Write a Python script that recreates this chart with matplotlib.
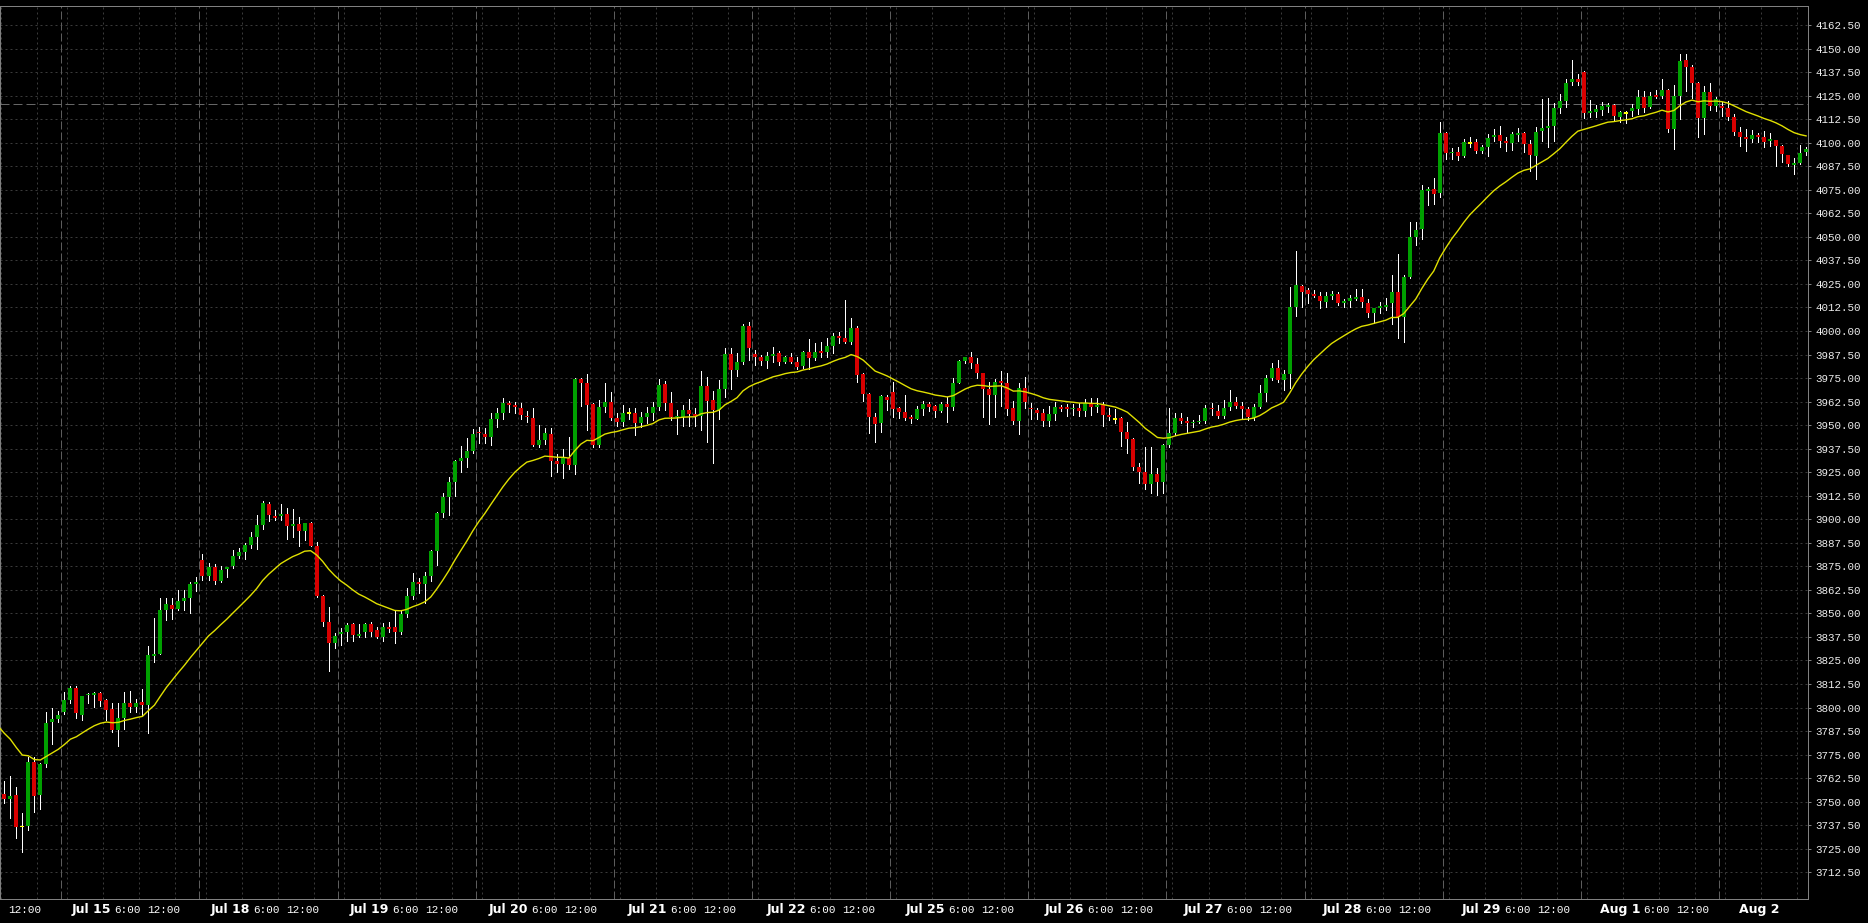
import numpy as np
import pandas as pd
import matplotlib
matplotlib.use("Agg")
import matplotlib.pyplot as plt
from matplotlib.transforms import blended_transform_factory

# ---------------- data (hourly candles, index -1 .. 300) ----------------
first_index = -1

opens = [
    3767.8, 3754.1, 3751.6, 3753.6, 3736.8, 3737.3, 3770.9, 3753.6, 3770.0, 3792.5,
    3793.9, 3797.8, 3804.0, 3810.2, 3796.1, 3806.5, 3806.9, 3807.7, 3804.0, 3799.2,
    3788.1, 3794.3, 3802.6, 3800.5, 3802.8, 3801.4, 3827.4, 3828.5, 3851.8, 3854.5,
    3852.2, 3856.8, 3858.4, 3865.8, 3878.4, 3869.9, 3874.5, 3867.2, 3873.8, 3875.2,
    3880.5, 3882.8, 3886.4, 3890.4, 3897.0, 3908.1, 3901.7, 3901.9, 3902.8, 3896.6,
    3897.5, 3894.0, 3897.9, 3886.0, 3859.4, 3845.3, 3834.1, 3838.9, 3840.0, 3844.2,
    3838.2, 3840.0, 3844.2, 3841.2, 3837.7, 3842.6, 3842.6, 3840.0, 3849.5, 3859.4,
    3866.9, 3865.6, 3869.9, 3883.2, 3903.2, 3912.0, 3920.0, 3931.1, 3932.7, 3936.3,
    3946.5, 3945.3, 3943.9, 3953.3, 3956.6, 3961.6, 3960.7, 3959.3, 3955.0, 3953.8,
    3939.5, 3942.1, 3945.3, 3931.0, 3929.5, 3932.7, 3928.8, 3974.3, 3972.6, 3961.0,
    3939.5, 3959.8, 3962.5, 3954.0, 3951.9, 3956.3, 3956.3, 3951.0, 3954.3, 3956.6,
    3959.8, 3971.8, 3961.6, 3954.2, 3954.2, 3958.0, 3955.9, 3955.0, 3970.8, 3963.4,
    3958.0, 3969.2, 3987.8, 3979.3, 3983.7, 4002.8, 3987.8, 3986.0, 3984.2, 3986.9,
    3988.1, 3983.7, 3986.0, 3983.7, 3981.4, 3989.0, 3985.8, 3989.2, 3989.0, 3992.0,
    3997.3, 3996.5, 3994.3, 4001.8, 3977.2, 3966.5, 3954.2, 3951.0, 3965.1, 3967.8,
    3959.3, 3957.2, 3954.2, 3953.3, 3958.6, 3961.2, 3960.3, 3957.7, 3961.2, 3959.8,
    3972.2, 3984.1, 3986.0, 3982.5, 3977.5, 3969.2, 3966.0, 3973.4, 3972.2, 3958.9,
    3952.4, 3969.5, 3959.3, 3958.0, 3956.3, 3952.4, 3955.9, 3959.8, 3959.8, 3958.4,
    3959.3, 3957.7, 3961.9, 3959.8, 3960.7, 3955.4, 3953.3, 3953.6, 3946.5, 3942.6,
    3928.0, 3925.0, 3918.5, 3924.0, 3920.0, 3939.5, 3946.0, 3953.6, 3952.2, 3951.0,
    3951.7, 3952.4, 3959.3, 3957.5, 3955.0, 3959.8, 3962.5, 3960.2, 3958.6, 3953.6,
    3959.4, 3967.2, 3974.9, 3980.2, 3974.0, 3977.2, 4012.6, 4023.9, 4021.8, 4019.6,
    4018.8, 4015.6, 4018.8, 4019.6, 4015.0, 4016.1, 4017.0, 4017.9, 4014.7, 4009.4,
    4012.4, 4012.9, 4014.7, 4020.5, 4007.6, 4028.5, 4050.1, 4054.2, 4074.5, 4075.4,
    4073.5, 4105.3, 4094.3, 4095.2, 4093.1, 4100.0, 4100.2, 4095.8, 4097.9, 4103.2,
    4104.1, 4101.1, 4099.7, 4104.1, 4105.0, 4099.3, 4093.1, 4106.4, 4107.6, 4108.9,
    4118.2, 4122.1, 4132.4, 4133.8, 4137.7, 4115.9, 4116.5, 4117.3, 4119.1, 4120.0,
    4113.8, 4115.9, 4117.0, 4117.7, 4124.4, 4118.9, 4125.3, 4125.0, 4128.0, 4107.3,
    4124.8, 4143.9, 4140.4, 4131.9, 4113.3, 4127.1, 4119.7, 4119.7, 4118.6, 4113.8,
    4105.9, 4103.2, 4102.1, 4104.1, 4103.2, 4100.9, 4101.4, 4098.2, 4093.5, 4088.2,
    4089.0, 4095.2,
]

highs = [
    3770.0, 3761.0, 3763.7, 3758.0, 3743.8, 3773.6, 3773.6, 3770.4, 3797.5, 3800.0,
    3798.2, 3808.1, 3811.5, 3811.5, 3806.2, 3807.9, 3808.4, 3808.4, 3804.5, 3802.2,
    3802.2, 3808.4, 3809.0, 3804.5, 3809.9, 3832.7, 3847.4, 3858.0, 3858.0, 3858.4,
    3862.4, 3862.4, 3866.5, 3869.5, 3881.6, 3876.6, 3876.3, 3875.4, 3874.8, 3883.7,
    3884.6, 3887.2, 3893.4, 3902.0, 3909.7, 3909.4, 3904.9, 3908.1, 3905.8, 3905.5,
    3901.4, 3898.2, 3898.7, 3887.8, 3859.6, 3853.6, 3839.5, 3842.1, 3845.1, 3845.1,
    3844.2, 3845.1, 3845.6, 3843.0, 3845.1, 3845.6, 3851.8, 3851.8, 3863.3, 3871.3,
    3868.6, 3872.2, 3883.7, 3904.0, 3913.8, 3922.3, 3931.5, 3939.1, 3943.0, 3948.0,
    3949.2, 3948.3, 3956.3, 3958.9, 3964.2, 3963.0, 3962.5, 3961.5, 3957.5, 3958.9,
    3950.1, 3948.3, 3948.3, 3934.7, 3937.3, 3943.9, 3974.8, 3975.2, 3977.2, 3961.5,
    3963.4, 3972.6, 3967.4, 3956.3, 3960.7, 3958.9, 3958.9, 3957.2, 3959.5, 3962.5,
    3974.5, 3973.6, 3967.4, 3958.0, 3960.7, 3963.9, 3958.9, 3978.9, 3975.7, 3968.3,
    3974.0, 3990.8, 3990.8, 3988.5, 4003.7, 4004.6, 3989.9, 3987.3, 3989.0, 3991.7,
    3989.5, 3986.9, 3988.1, 3986.4, 3989.5, 3995.6, 3993.4, 3994.3, 3996.1, 3998.8,
    3999.6, 4016.5, 4007.1, 4002.8, 3977.5, 3967.0, 3956.3, 3966.0, 3966.0, 3973.1,
    3959.5, 3966.0, 3955.5, 3960.2, 3963.0, 3962.5, 3960.7, 3962.1, 3964.8, 3974.9,
    3984.6, 3986.4, 3989.0, 3985.5, 3977.9, 3972.7, 3974.3, 3978.9, 3977.9, 3962.8,
    3972.2, 3975.4, 3961.5, 3958.9, 3958.4, 3960.2, 3962.5, 3960.7, 3961.0, 3961.0,
    3961.5, 3963.7, 3964.2, 3964.2, 3962.5, 3958.9, 3958.4, 3954.5, 3951.5, 3943.0,
    3930.0, 3938.2, 3938.2, 3927.0, 3940.0, 3958.9, 3956.3, 3956.3, 3954.5, 3952.7,
    3955.4, 3960.7, 3961.6, 3960.7, 3963.3, 3968.7, 3965.1, 3962.5, 3959.8, 3961.0,
    3971.3, 3976.6, 3982.8, 3984.6, 3979.3, 4023.5, 4042.6, 4024.4, 4022.6, 4021.8,
    4020.9, 4020.9, 4021.4, 4020.9, 4016.8, 4019.1, 4022.1, 4022.1, 4016.8, 4012.4,
    4015.6, 4017.3, 4029.7, 4040.9, 4029.7, 4057.7, 4057.7, 4077.5, 4076.6, 4081.0,
    4111.2, 4105.8, 4097.0, 4097.5, 4102.0, 4103.2, 4101.8, 4098.8, 4104.4, 4107.1,
    4108.9, 4103.2, 4105.9, 4107.6, 4105.9, 4101.4, 4108.1, 4123.2, 4123.5, 4121.2,
    4125.9, 4133.8, 4143.9, 4136.3, 4138.2, 4122.6, 4120.0, 4121.8, 4121.2, 4120.5,
    4116.8, 4116.8, 4120.3, 4128.0, 4127.4, 4127.1, 4128.0, 4133.8, 4128.5, 4130.6,
    4147.1, 4147.1, 4141.3, 4132.4, 4130.1, 4131.9, 4124.1, 4121.8, 4122.1, 4115.2,
    4108.5, 4107.1, 4106.7, 4105.3, 4106.4, 4105.3, 4101.6, 4098.8, 4093.5, 4091.7,
    4098.8, 4097.5,
]

lows = [
    3750.0, 3749.5, 3741.2, 3730.6, 3723.5, 3735.0, 3744.7, 3746.0, 3768.6, 3780.5,
    3792.5, 3796.6, 3802.6, 3794.7, 3793.4, 3802.6, 3800.5, 3801.0, 3793.4, 3787.2,
    3779.6, 3788.6, 3797.5, 3797.8, 3796.1, 3786.3, 3824.4, 3828.5, 3846.5, 3846.9,
    3851.8, 3851.8, 3850.0, 3862.1, 3867.7, 3867.7, 3865.6, 3866.5, 3869.5, 3874.3,
    3879.3, 3878.9, 3884.6, 3884.2, 3894.8, 3899.3, 3899.6, 3899.6, 3889.5, 3890.8,
    3886.0, 3889.0, 3886.0, 3858.9, 3843.5, 3819.6, 3831.5, 3833.2, 3835.5, 3835.5,
    3837.7, 3837.7, 3838.2, 3836.8, 3835.5, 3840.0, 3834.1, 3839.1, 3848.3, 3857.7,
    3860.7, 3855.4, 3867.4, 3875.7, 3901.4, 3902.3, 3912.5, 3925.3, 3927.9, 3935.0,
    3940.3, 3940.3, 3939.5, 3949.2, 3953.3, 3957.0, 3956.3, 3953.0, 3951.8, 3939.1,
    3938.6, 3940.0, 3923.0, 3925.3, 3922.1, 3926.7, 3924.1, 3960.3, 3947.4, 3938.6,
    3938.6, 3956.8, 3952.7, 3949.7, 3949.7, 3953.1, 3944.8, 3949.2, 3951.0, 3952.7,
    3958.0, 3958.0, 3952.7, 3945.1, 3949.7, 3949.7, 3949.7, 3947.4, 3941.2, 3930.1,
    3953.1, 3965.1, 3969.2, 3976.3, 3982.5, 3984.6, 3981.9, 3981.9, 3980.2, 3983.7,
    3981.9, 3982.8, 3982.8, 3979.6, 3980.2, 3979.6, 3984.6, 3986.0, 3986.4, 3988.1,
    3993.4, 3993.4, 3992.9, 3972.7, 3963.0, 3945.7, 3940.9, 3946.6, 3958.0, 3954.2,
    3953.6, 3952.7, 3951.3, 3953.1, 3955.4, 3957.7, 3954.5, 3956.8, 3951.8, 3958.0,
    3972.2, 3983.0, 3980.2, 3974.9, 3954.2, 3950.6, 3954.5, 3960.3, 3955.4, 3950.6,
    3945.3, 3958.9, 3953.3, 3953.1, 3949.7, 3949.7, 3952.7, 3957.7, 3954.8, 3955.4,
    3954.8, 3954.8, 3955.4, 3956.8, 3949.7, 3952.7, 3951.0, 3939.1, 3935.0, 3926.0,
    3919.0, 3916.0, 3914.0, 3913.0, 3914.0, 3938.5, 3944.8, 3951.0, 3946.5, 3949.2,
    3951.0, 3951.0, 3955.4, 3953.6, 3953.6, 3958.0, 3958.9, 3953.3, 3952.7, 3952.7,
    3958.9, 3962.8, 3974.0, 3973.1, 3968.7, 3969.6, 4008.0, 4012.9, 4015.0, 4017.9,
    4012.4, 4012.9, 4017.0, 4013.8, 4012.9, 4012.9, 4016.5, 4012.9, 4007.6, 4004.1,
    4009.7, 4011.1, 4003.7, 3996.1, 3994.3, 4028.0, 4045.7, 4048.9, 4066.9, 4067.4,
    4071.3, 4091.1, 4091.1, 4090.8, 4092.2, 4097.9, 4094.7, 4094.7, 4093.1, 4101.0,
    4097.5, 4095.8, 4096.1, 4101.1, 4095.2, 4085.1, 4080.5, 4101.1, 4097.9, 4101.1,
    4116.0, 4119.1, 4130.6, 4130.6, 4112.9, 4113.5, 4113.8, 4114.7, 4116.5, 4112.0,
    4111.1, 4110.6, 4114.2, 4115.2, 4116.5, 4118.2, 4123.5, 4123.5, 4105.9, 4096.6,
    4112.6, 4127.6, 4123.5, 4103.2, 4104.6, 4117.4, 4117.0, 4114.2, 4112.0, 4104.0,
    4098.2, 4095.8, 4100.5, 4100.5, 4097.9, 4098.2, 4087.8, 4089.9, 4087.8, 4083.2,
    4088.5, 4093.5,
]

closes = [
    3752.7, 3751.5, 3753.2, 3736.8, 3736.8, 3770.9, 3753.2, 3770.0, 3792.0, 3793.9,
    3796.1, 3804.0, 3810.2, 3797.0, 3806.2, 3807.4, 3807.7, 3803.7, 3798.7, 3788.1,
    3794.3, 3802.6, 3800.5, 3802.6, 3801.4, 3827.9, 3828.5, 3851.8, 3854.8, 3852.4,
    3856.8, 3858.4, 3865.6, 3866.9, 3869.9, 3874.5, 3867.2, 3873.1, 3874.5, 3880.5,
    3882.8, 3886.4, 3890.4, 3897.0, 3908.5, 3902.3, 3900.7, 3902.8, 3896.6, 3897.5,
    3894.0, 3897.9, 3886.0, 3859.4, 3845.6, 3834.1, 3838.2, 3839.9, 3843.9, 3838.6,
    3838.9, 3844.2, 3840.3, 3837.7, 3842.6, 3841.7, 3840.0, 3849.5, 3859.4, 3866.9,
    3865.5, 3869.9, 3883.2, 3903.2, 3912.0, 3920.0, 3931.1, 3932.4, 3936.3, 3945.3,
    3945.6, 3943.9, 3953.3, 3956.6, 3961.6, 3960.7, 3959.8, 3955.2, 3954.1, 3939.5,
    3942.1, 3945.7, 3931.0, 3929.5, 3932.7, 3928.8, 3974.3, 3972.6, 3960.7, 3939.5,
    3959.8, 3962.5, 3954.0, 3951.9, 3956.3, 3956.3, 3951.0, 3954.3, 3956.6, 3959.8,
    3971.3, 3961.9, 3954.2, 3954.9, 3958.0, 3955.9, 3955.0, 3970.8, 3963.0, 3958.0,
    3969.2, 3987.8, 3979.3, 3983.7, 4002.8, 3991.1, 3986.4, 3984.1, 3986.7, 3987.8,
    3983.7, 3986.0, 3983.7, 3981.1, 3989.0, 3985.8, 3989.0, 3988.1, 3992.0, 3997.3,
    3996.5, 3994.3, 4001.8, 3976.6, 3966.5, 3954.2, 3950.6, 3965.5, 3963.4, 3958.6,
    3956.8, 3954.0, 3953.1, 3958.6, 3961.2, 3959.8, 3957.7, 3961.2, 3959.8, 3972.2,
    3984.1, 3986.0, 3982.8, 3977.9, 3969.2, 3966.0, 3972.7, 3972.2, 3958.6, 3952.4,
    3969.5, 3962.5, 3958.4, 3956.3, 3952.4, 3955.9, 3959.4, 3958.7, 3958.7, 3959.3,
    3957.7, 3961.9, 3959.8, 3960.7, 3955.4, 3954.1, 3953.3, 3946.5, 3942.6, 3928.0,
    3925.0, 3918.5, 3924.0, 3920.0, 3939.5, 3946.0, 3953.6, 3952.4, 3951.0, 3951.8,
    3952.4, 3958.9, 3958.4, 3955.0, 3958.9, 3962.5, 3960.3, 3958.6, 3954.5, 3959.4,
    3967.2, 3974.9, 3980.2, 3974.0, 3977.2, 4012.6, 4024.4, 4020.9, 4019.6, 4018.8,
    4015.9, 4018.6, 4019.6, 4015.0, 4015.9, 4017.7, 4017.9, 4015.6, 4009.4, 4012.0,
    4013.3, 4013.8, 4020.9, 4007.6, 4028.5, 4049.7, 4053.6, 4074.9, 4075.4, 4072.8,
    4105.3, 4094.3, 4095.2, 4093.1, 4100.2, 4100.0, 4095.8, 4097.9, 4102.7, 4104.1,
    4101.1, 4099.7, 4104.6, 4105.0, 4099.3, 4093.5, 4105.5, 4107.6, 4108.9, 4118.2,
    4122.1, 4131.9, 4133.8, 4132.4, 4115.9, 4116.8, 4117.7, 4119.7, 4120.0, 4114.2,
    4116.5, 4115.9, 4118.2, 4124.4, 4118.6, 4124.8, 4124.4, 4128.0, 4107.3, 4124.8,
    4143.6, 4140.4, 4131.9, 4113.3, 4127.1, 4119.7, 4123.2, 4118.6, 4113.8, 4105.9,
    4103.2, 4102.1, 4104.1, 4103.2, 4100.5, 4101.8, 4098.2, 4093.8, 4088.7, 4089.4,
    4094.7, 4096.9,
]

ma_period = 20          # exponential moving average length
ma_seed = 3790.0        # MA value read at the first (partial) candle
ref_line = 4120.5       # horizontal dashed reference line

day_labels = ["Jul 15", "Jul 18", "Jul 19", "Jul 20", "Jul 21", "Jul 22", "Jul 25",
              "Jul 26", "Jul 27", "Jul 28", "Jul 29", "Aug 1", "Aug 2"]
time_labels = ["6:00", "12:00"]
candles_per_day = 23
first_day_break = 9.5   # candle index where Jul 15 session begins

y_ticks = np.arange(3712.5, 4162.5 + 0.01, 12.5)

# ---------------- derived ----------------
O = np.array(opens); H = np.array(highs); L = np.array(lows); C = np.array(closes)
n = len(C)
idx = np.arange(n) + first_index

ema_input = pd.Series(np.concatenate([[ma_seed], C[1:]]))
ma = ema_input.ewm(alpha=2.0 / (ma_period + 1), adjust=False).mean().values

# ---------------- figure ----------------
W, Hpx = 1868, 923
fig = plt.figure(figsize=(W / 100, Hpx / 100), dpi=100, facecolor="black")
ax_left, ax_right, ax_top, ax_bot = 0.0, 1808.3, 6.0, 899.3
ax = fig.add_axes([ax_left / W, (Hpx - ax_bot) / Hpx,
                   (ax_right - ax_left) / W, (ax_bot - ax_top) / Hpx])
ax.set_facecolor("black")

# pixel mapping: candle i centre at 4.3 + 6.006*i px ; value v at 25 + (4162.5-v)*1.8829 px
px_per_candle = 6.006
x0_px = 4.3
xmin = (ax_left - x0_px) / px_per_candle
xmax = (ax_right - x0_px) / px_per_candle
k = 1.8829
ymax = 4162.5 + (25 - ax_top) / k
ymin = 4162.5 - (ax_bot - 25) / k
ax.set_xlim(xmin, xmax)
ax.set_ylim(ymin, ymax)

px = 0.72  # one pixel in points

# grid
grid_col = "#3a3a3a"
for v in y_ticks:
    ax.axhline(v, color=grid_col, lw=px, ls=(0, (2, 3)), zorder=0)
for d in range(-1, len(day_labels)):
    s = first_day_break + candles_per_day * d
    if xmin < s < xmax:
        ax.axvline(s, color="#5c5c5c", lw=px, ls=(0, (8, 3)), zorder=0)
    for off in (1, 7, 13, 19):
        g = s + off
        if xmin < g < xmax:
            ax.axvline(g, color=grid_col, lw=px, ls=(0, (2, 3)), zorder=0)
ax.axhline(ref_line, color="#666666", lw=px, ls=(0, (9, 4)), zorder=0.5)

# candles
up = C > O
down = C < O
doji = C == O
col_up, col_dn, col_doji = "#00a000", "#d80000", "#ffff00"
ax.vlines(idx, L, H, colors="white", lw=px, zorder=2, antialiased=False)
bw = 4.0 / px_per_candle
body_lo = np.minimum(O, C)
body_h = np.maximum(np.abs(C - O), 0.6)
ax.bar(idx[up], body_h[up], bottom=body_lo[up], width=bw, color=col_up,
       linewidth=0, zorder=3, antialiased=False)
ax.bar(idx[down], body_h[down], bottom=body_lo[down], width=bw, color=col_dn,
       linewidth=0, zorder=3, antialiased=False)
ax.bar(idx[doji], np.full(doji.sum(), 1.0), bottom=C[doji] - 0.5, width=bw,
       color=col_doji, linewidth=0, zorder=3, antialiased=False)

# moving average
ax.plot(idx, ma, color="#e0e000", lw=1.0, zorder=4)

# spines / ticks
for sp in ax.spines.values():
    sp.set_color("#808080")
    sp.set_linewidth(px)
ax.set_xticks([])
ax.yaxis.tick_right()
ax.set_yticks(y_ticks)
ax.set_yticklabels([f"{v:.2f}" for v in y_ticks])
ax.tick_params(axis="y", direction="out", length=2.2, width=px, color="#808080",
               labelcolor="#ececec", pad=2.7, labelsize=7.8)
for t in ax.get_yticklabels():
    t.set_fontfamily("Liberation Mono")

# x labels (dates bold, times regular)
tr = blended_transform_factory(ax.transData, fig.transFigure)
base_y = (Hpx - 913.3) / Hpx
def to_idx(p):
    return (p - x0_px) / px_per_candle
date_px0, date_step = 90.9, 139.0
time_off = [36.9, 72.6]
# trailing time label of the previous (partial) session
ax.text(to_idx(date_px0 - date_step + time_off[1]), base_y, time_labels[1], transform=tr,
        ha="center", va="baseline", color="white", fontsize=7.9, family="Liberation Mono")
for kday, lab in enumerate(day_labels):
    c = date_px0 + date_step * kday
    ax.text(to_idx(c), base_y, lab, transform=tr, ha="center", va="baseline",
            color="white", fontsize=9.0, fontweight="bold", family="DejaVu Sans")
    if kday < len(day_labels) - 1:
        for off, tl in zip(time_off, time_labels):
            ax.text(to_idx(c + off), base_y, tl, transform=tr, ha="center", va="baseline",
                    color="white", fontsize=7.9, family="Liberation Mono")

fig.savefig("out.png", dpi=100, facecolor="black")
